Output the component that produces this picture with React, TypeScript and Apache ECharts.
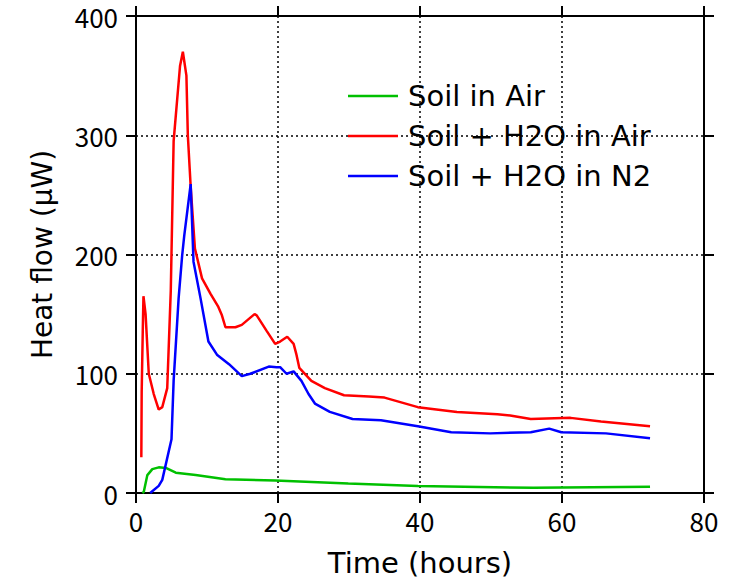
import React, { useEffect, useRef } from "react";
import * as echarts from "echarts";

const xTicks = [0, 20, 40, 60, 80];
const yTicks = [0, 100, 200, 300, 400];

const soilAir: [number, number][] = [
  [0.9, 0], [1.1, 1], [1.6, 15], [2.3, 20], [3.2, 21.5], [4.2, 21], [5.6, 17],
  [8.4, 15], [12.6, 11.5], [19.6, 10.5], [29.9, 8], [39.7, 5.8], [56, 4.3], [72.4, 5.3],
];

const soilH2OAir: [number, number][] = [
  [0.75, 30], [0.8, 85], [0.95, 135], [1.05, 165], [1.35, 150], [1.8, 100], [2.5, 83],
  [3.2, 70], [3.7, 72], [4.4, 88], [4.9, 170], [5.3, 295], [5.8, 330], [6.2, 358],
  [6.6, 370], [7.1, 350], [7.3, 300], [7.7, 257], [8.3, 205], [9.3, 180], [10.5, 167],
  [11.6, 156], [12.1, 149], [12.6, 139], [14.0, 139], [14.9, 141], [15.9, 146],
  [16.7, 150], [17.0, 149], [18.4, 136], [19.6, 125], [20.3, 127], [21.3, 131],
  [22.2, 125], [22.6, 116], [23.0, 105], [24.7, 94], [26.6, 88], [29.3, 82], [32.8, 81],
  [35.0, 80], [39.7, 72], [45.2, 68], [50.9, 66], [52.7, 65], [55.6, 62], [61.2, 63],
  [65.5, 60], [72.4, 56],
];

const soilH2ON2: [number, number][] = [
  [2.0, 0], [3.2, 6], [3.7, 11], [5.0, 45], [5.3, 94], [6.0, 163], [6.5, 199], [6.8, 216],
  [7.7, 259], [8.1, 194], [9.1, 163], [10.2, 127], [11.4, 116], [13.1, 108], [14.9, 98],
  [16.1, 100], [18.7, 106], [19.8, 105.5], [20.3, 105.5], [21.2, 100], [22.2, 102],
  [23.3, 94], [24.3, 83], [25.2, 75], [27.3, 68], [30.5, 62], [34.5, 61], [39.7, 56],
  [44.4, 51], [49.9, 50], [55.6, 51], [58.2, 54], [59.9, 51], [66.2, 50], [72.4, 46],
];

const seriesNames = ["Soil in Air", "Soil + H2O in Air", "Soil + H2O in N2"];
const seriesColors = ["#00c000", "#ff0000", "#0000ff"];

const DIGIT_FONT = "'Noto Sans CJK JP', 'Noto Sans', sans-serif";
const TEXT_FONT = "'DejaVu Sans', sans-serif";

export default function App() {
  const ref = useRef<HTMLDivElement>(null);
  useEffect(() => {
    if (!ref.current) return;
    const chart = echarts.init(ref.current, null, { renderer: "svg" });
    const axisLine = { show: true, onZero: false, lineStyle: { color: "#000", width: 2 } };
    const tick = { show: true, inside: false, length: 10, lineStyle: { color: "#000", width: 2 } };
    const split = { show: true, lineStyle: { color: "#000", type: [2, 3] as any, width: 1.5 } };
    const datasets = [soilAir, soilH2OAir, soilH2ON2];
    chart.setOption({
      animation: false,
      backgroundColor: "#fff",
      textStyle: { fontFamily: TEXT_FONT },
      grid: { left: 136, right: 25, top: 16, bottom: 85, containLabel: false },
      legend: {
        orient: "vertical",
        left: 343,
        top: 74,
        itemWidth: 50,
        itemHeight: 2.5,
        itemGap: 6,
        icon: "rect",
        textStyle: { fontSize: 29, color: "#000", fontFamily: TEXT_FONT, lineHeight: 34, padding: [0, 0, 0, 5] },
        data: seriesNames,
      },
      xAxis: [
        {
          type: "value",
          min: xTicks[0],
          max: xTicks[xTicks.length - 1],
          interval: 20,
          position: "bottom",
          name: "Time (hours)",
          nameLocation: "middle",
          nameGap: 55,
          nameTextStyle: { fontSize: 29, color: "#000", fontFamily: TEXT_FONT },
          axisLine,
          axisTick: tick,
          axisLabel: { fontSize: 26, lineHeight: 26, color: "#000", margin: 14, fontFamily: DIGIT_FONT },
          splitLine: split,
        },
        {
          type: "value",
          min: xTicks[0],
          max: xTicks[xTicks.length - 1],
          interval: 20,
          position: "top",
          axisLine,
          axisTick: tick,
          axisLabel: { show: false },
          splitLine: { show: false },
        },
      ],
      yAxis: [
        {
          type: "value",
          min: yTicks[0],
          max: yTicks[yTicks.length - 1],
          interval: 100,
          position: "left",
          name: "Heat flow (μW)",
          nameLocation: "middle",
          nameGap: 80,
          nameTextStyle: { fontSize: 28, color: "#000", fontFamily: TEXT_FONT },
          axisLine,
          axisTick: tick,
          axisLabel: { fontSize: 26, lineHeight: 24, color: "#000", margin: 18, fontFamily: DIGIT_FONT },
          splitLine: split,
        },
        {
          type: "value",
          min: yTicks[0],
          max: yTicks[yTicks.length - 1],
          interval: 100,
          position: "right",
          axisLine,
          axisTick: tick,
          axisLabel: { show: false },
          splitLine: { show: false },
        },
      ],
      series: seriesNames.map((name, i) => ({
        name,
        type: "line",
        data: datasets[i],
        symbol: "none",
        color: seriesColors[i],
        lineStyle: { width: 2.5, color: seriesColors[i] },
      })),
    });
    return () => chart.dispose();
  }, []);
  return <div ref={ref} style={{ width: 729, height: 582, position: "absolute", left: 0, top: 0 }} />;
}
